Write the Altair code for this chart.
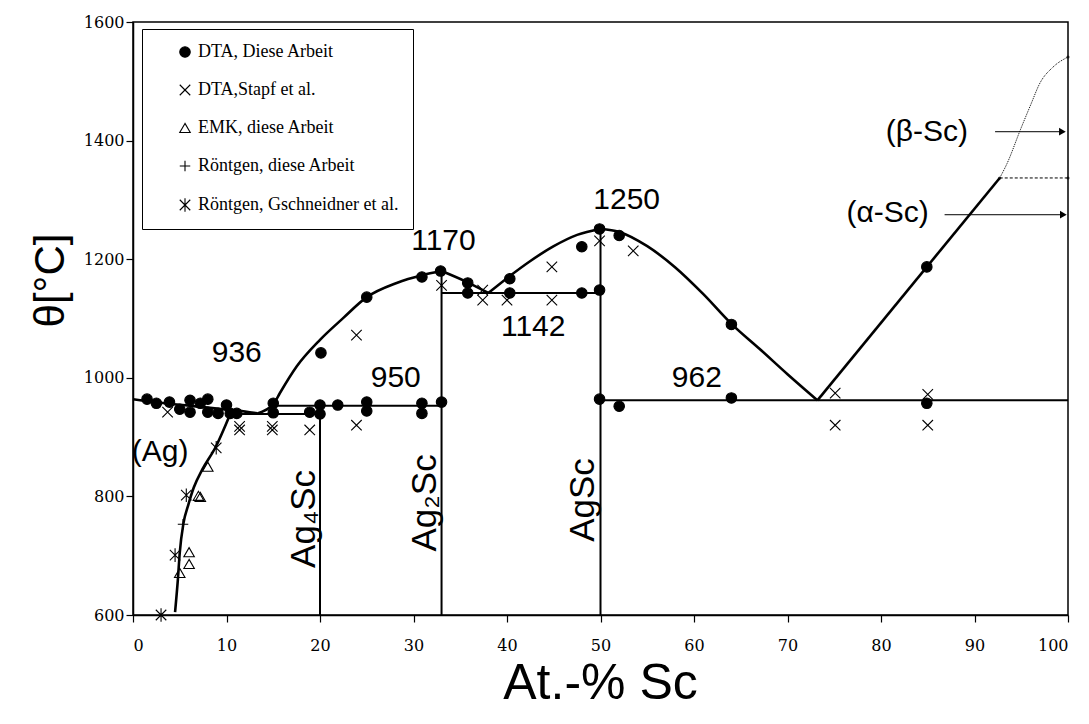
import altair as alt
import pandas as pd

# ---------------- data ----------------
series_names = ["DTA, Diese Arbeit", "DTA,Stapf et al.", "EMK, diese Arbeit",
                "Röntgen, diese Arbeit", "Röntgen, Gschneidner et al."]

dta_x = [1.5, 2.5, 3.9, 5.0, 6.1, 6.1, 7.2, 8.0, 8.0, 9.1, 10.0, 10.4, 11.1,
         15.0, 15.0, 18.9, 20.0, 20.0, 21.9, 25.0, 25.0, 30.9, 30.9, 33.0,
         20.1, 25.0, 30.9, 32.9, 35.8, 35.8, 40.3, 40.3, 48.0, 48.0, 49.9, 49.9,
         52.0, 49.9, 52.0, 64.0, 64.0, 84.9, 84.9]
dta_y = [964, 957, 959, 947, 962, 942, 957, 964, 942, 940, 954, 940, 940,
         957, 941, 942, 954, 939, 954, 959, 944, 957, 940, 959,
         1042, 1136, 1170, 1180, 1160, 1143, 1167, 1143, 1221, 1143, 1251, 1148,
         1240, 964, 952, 1090, 966, 1187, 957]

stapf_x = [3.7, 11.4, 11.4, 14.9, 14.9, 18.9, 23.9, 23.9, 33.0, 37.4, 37.4, 40.0,
           44.8, 44.8, 49.9, 53.5, 75.1, 75.1, 85.0, 85.0]
stapf_y = [942, 918, 912, 918, 912, 912, 920, 1072, 1156, 1148, 1131, 1131,
           1187, 1131, 1231, 1214, 974, 920, 972, 920]

emk_x = [5.0, 6.0, 6.0, 7.0, 7.2, 8.0]
emk_y = [671, 686, 706, 801, 799, 850]

roe_x = [5.35]
roe_y = [753]

gsch_x = [3.0, 4.5, 5.7, 8.9]
gsch_y = [600, 701, 802, 882]

# phase boundary lines (thick)
liq_ag_x = [0, 3, 6, 9, 12, 13.3]
liq_ag_y = [964, 958, 953, 948, 943, 940]
liq_ag4_x = [13.3, 15, 15.7, 17.5, 20, 22.5, 25, 28.2, 30.9, 33]
liq_ag4_y = [940, 955, 974, 1019, 1064, 1101, 1136, 1160, 1173, 1180]
liq_ag2_x = [33, 35.5, 38]
liq_ag2_y = [1180, 1163, 1143]
liq_agsc_l_x = [38, 40, 42.5, 45, 47.5, 50]
liq_agsc_l_y = [1143, 1168, 1197, 1222, 1241, 1251]
liq_agsc_r_x = [50, 52, 55, 58, 61, 64, 67, 70, 73.2]
liq_agsc_r_y = [1251, 1246, 1222, 1186, 1141, 1091, 1049, 1006, 962]
liq_sc_x = [73.2, 92.7]
liq_sc_y = [962, 1337]
sol_ag_x = [4.5, 4.8, 5.0, 5.4, 5.9, 6.5, 7.4, 8.8, 10.4]
sol_ag_y = [605, 660, 705, 755, 785, 815, 845, 882, 939]

# invariant / compound lines (thinner)
h936_x = [10.4, 20];  h936_y = [939, 939]
h950_x = [15, 33];    h950_y = [953, 953]
h1142_x = [33, 50];   h1142_y = [1143, 1143]
h962_x = [50, 100];   h962_y = [962, 962]
v20_x = [20, 20];     v20_y = [939, 600]
v33_x = [33, 33];     v33_y = [1180, 600]
v50_x = [50, 50];     v50_y = [1251, 600]

# alpha/beta Sc
dash_x = [92.7, 100]; dash_y = [1337, 1337]
beta_x = [92.7, 93.5, 94.9, 96, 97, 98.4, 100]
beta_y = [1337, 1362, 1418, 1460, 1497, 1524, 1541]
tiny_x = [92.7, 100, 100]
tiny_y = [1337, 1337, 1541]

# arrows
arrow_x0 = [92.2, 86.8]
arrow_x1 = [99.4, 99.5]
arrow_y = [1415, 1275]

# labels
lab_text = ["936", "950", "1170", "1142", "1250", "962", "(Ag)", "(β-Sc)", "(α-Sc)"]
lab_x = [11.1, 28.1, 33.2, 42.8, 52.8, 60.3, 2.9, 84.9, 80.7]
lab_y = [1042, 1000, 1231, 1086, 1300, 1000, 875, 1415, 1278]
rot_text = ["Ag₄Sc", "Ag₂Sc", "AgSc"]
rot_x = [18.3, 31.2, 48.1]
rot_y = [762, 789, 794]

x_ticks = [0, 10, 20, 30, 40, 50, 60, 70, 80, 90, 100]
y_ticks = [600, 800, 1000, 1200, 1400, 1600]

# ---------------- build tables ----------------
pts = []
for name, xs, ys in zip(series_names,
                        [dta_x, stapf_x, emk_x, roe_x, gsch_x],
                        [dta_y, stapf_y, emk_y, roe_y, gsch_y]):
    for a, b in zip(xs, ys):
        pts.append({"x": a, "y": b, "series": name})
pts = pd.DataFrame(pts)


def seg_table(segs):
    rows = []
    for i, (xs, ys) in enumerate(segs):
        for j, (a, b) in enumerate(zip(xs, ys)):
            rows.append({"x": a, "y": b, "seg": i, "ord": j})
    return pd.DataFrame(rows)


thick = seg_table([(liq_ag_x, liq_ag_y), (liq_ag4_x, liq_ag4_y), (liq_ag2_x, liq_ag2_y),
                   (liq_agsc_l_x, liq_agsc_l_y), (liq_agsc_r_x, liq_agsc_r_y),
                   (liq_sc_x, liq_sc_y), (sol_ag_x, sol_ag_y)])
thin = seg_table([(h936_x, h936_y), (h950_x, h950_y), (h1142_x, h1142_y), (h962_x, h962_y),
                  (v20_x, v20_y), (v33_x, v33_y), (v50_x, v50_y)])
dashed = seg_table([(dash_x, dash_y)])
beta = seg_table([(beta_x, beta_y)])
tiny = pd.DataFrame({"x": tiny_x, "y": tiny_y})
arrows = pd.DataFrame({"x": arrow_x0, "x2": arrow_x1, "y": arrow_y})
heads = pd.DataFrame({"x": arrow_x1, "y": arrow_y})
labels = pd.DataFrame({"x": lab_x, "y": lab_y, "t": lab_text})
rlabels = pd.DataFrame({"x": rot_x, "y": rot_y, "t": rot_text})

# ---------------- encodings ----------------
X = alt.X("x:Q", scale=alt.Scale(domain=[0, 100], nice=False),
          axis=alt.Axis(values=x_ticks, title="At.-% Sc", grid=False, format="d",
                        titleX=467, titleY=68, titleBaseline="middle", titleAlign="center"))
Y = alt.Y("y:Q", scale=alt.Scale(domain=[600, 1600], nice=False),
          axis=alt.Axis(values=y_ticks, title="θ[°C]", grid=False, format="d",
                        titleX=-83, titleY=258, titleBaseline="middle", titleAlign="center",
                        titleAngle=270))

x_path = "M-1,-1L1,1M-1,1L1,-1"
plus_path = "M-1,0L1,0M0,-1L0,1"
ast_path = "M-1,-1L1,1M-1,1L1,-1M0,-1.3L0,1.3"


def make_legend():
    return alt.Legend(title=None, orient="none", legendX=9, legendY=7,
                      labelFont="Liberation Serif", labelFontSize=18, labelLimit=400,
                      labelColor="black", rowPadding=20, padding=14,
                      symbolOffset=20, symbolSize=110, symbolStrokeWidth=1.1,
                      strokeColor="black", fillColor="white")


points = alt.Chart(pts).mark_point(strokeWidth=1.1, size=110, opacity=1).encode(
    x=X, y=Y,
    shape=alt.Shape("series:N", scale=alt.Scale(domain=series_names,
                    range=["circle", x_path, "triangle-up", plus_path, ast_path]),
                    legend=make_legend()),
    fill=alt.Fill("series:N", scale=alt.Scale(domain=series_names,
                  range=["black", "transparent", "transparent", "transparent", "transparent"]),
                  legend=make_legend()),
    stroke=alt.Stroke("series:N", scale=alt.Scale(domain=series_names,
                      range=["black", "black", "black", "black", "black"]),
                      legend=make_legend()),
)

thick_l = alt.Chart(thick).mark_line(color="black", strokeWidth=2.6, interpolate="monotone").encode(
    x=X, y=Y, detail="seg:N", order="ord:Q")
thin_l = alt.Chart(thin).mark_line(color="black", strokeWidth=2).encode(
    x=X, y=Y, detail="seg:N", order="ord:Q")
dash_l = alt.Chart(dashed).mark_line(color="black", strokeWidth=1, strokeDash=[3, 2]).encode(
    x=X, y=Y, detail="seg:N", order="ord:Q")
beta_l = alt.Chart(beta).mark_line(color="black", strokeWidth=1, strokeDash=[1, 1],
                                   interpolate="monotone").encode(
    x=X, y=Y, detail="seg:N", order="ord:Q")
tiny_p = alt.Chart(tiny).mark_point(filled=True, color="black", size=10).encode(x=X, y=Y)
arrow_l = alt.Chart(arrows).mark_rule(color="black", strokeWidth=1).encode(x=X, x2="x2:Q", y=Y)
head_p = alt.Chart(heads).mark_point(shape="triangle-right", filled=True, color="black",
                                     size=60, opacity=1).encode(x=X, y=Y)
text_l = alt.Chart(labels).mark_text(font="Liberation Sans", fontSize=30, color="black",
                                     align="center", baseline="middle").encode(x=X, y=Y, text="t:N")
rtext_l = alt.Chart(rlabels).mark_text(font="Liberation Sans", fontSize=35, color="black",
                                       angle=270, align="center", baseline="middle").encode(
    x=X, y=Y, text="t:N")

chart = alt.layer(thin_l, thick_l, dash_l, beta_l, arrow_l, head_p, tiny_p, text_l, rtext_l, points).properties(
    width=935, height=593,
    autosize=alt.AutoSizeParams(type="none"),
    padding={"left": 125, "top": 14, "right": 13, "bottom": 108},
).configure_view(stroke="black", strokeWidth=1.5).configure_axis(
    domainColor="black", domainWidth=1.5, tickColor="black", tickSize=7, tickWidth=1.2,
    labelFont="DejaVu Serif", labelFontSize=16, labelColor="black",
    titleFont="Liberation Sans", titleFontWeight="normal", titleColor="black",
).configure_axisX(labelPadding=15, titleFontSize=50).configure_axisY(
    labelPadding=2, titleFontSize=42)

chart.save("out.html", embed_options={"renderer": "svg", "actions": False})
